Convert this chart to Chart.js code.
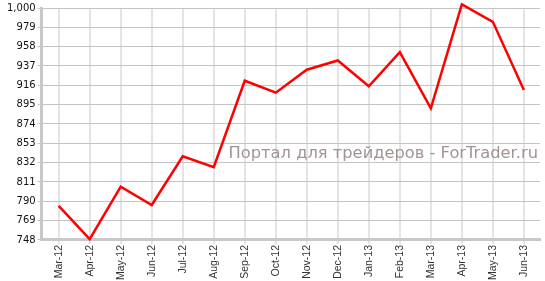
<!DOCTYPE html>
<html>
<head>
<meta charset="utf-8">
<script src="https://cdn.jsdelivr.net/npm/chart.js@4"></script>
<style>
  html, body { margin: 0; padding: 0; background: #fff; }
  #wrap { width: 545px; height: 281px; position: relative; }
</style>
</head>
<body>
<div id="wrap"><canvas id="chart"></canvas></div>
<script>
// Месяцы и значения
const months = ["Mar-12", "Apr-12", "May-12", "Jun-12", "Jul-12", "Aug-12", "Sep-12", "Oct-12",
  "Nov-12", "Dec-12", "Jan-13", "Feb-13", "Mar-13", "Apr-13", "May-13", "Jun-13"];
const values = [785, 749, 806, 786, 839, 827, 921, 908, 933, 943, 915, 952, 891, 1004, 985, 911];

const yMin = 748;
const yMax = 1000;
const yStep = 21;

const watermark = "Портал для трейдеров - ForTrader.ru";

// подпись-водяной знак поверх сетки
const watermarkPlugin = {
  id: "watermark",
  beforeDatasetsDraw(chart) {
    const ctx = chart.ctx;
    ctx.save();
    ctx.font = "16.3px 'DejaVu Sans'";
    ctx.fillStyle = "#a39494";
    ctx.textAlign = "right";
    ctx.textBaseline = "alphabetic";
    ctx.fillText(watermark, 538, 158);
    ctx.restore();
  },
};

// точки по индексу месяца
const points = values.map((v, i) => ({ x: i, y: v }));

new Chart(document.getElementById("chart").getContext("2d"), {
  type: "line",
  data: {
    datasets: [
      {
        data: points,
        borderColor: "#ff0000",
        borderWidth: 2.5,
        pointRadius: 0,
        tension: 0,
        fill: false,
        clip: false,
      },
    ],
  },
  options: {
    responsive: true,
    maintainAspectRatio: false,
    animation: false,
    layout: { padding: { top: 0, right: 5, left: 5, bottom: 0 } },
    plugins: { legend: { display: false }, tooltip: { enabled: false } },
    scales: {
      x: {
        type: "linear",
        min: -0.55,
        max: 15.52,
        grid: { color: "#e4e4e4", lineWidth: 2, drawTicks: true, tickLength: 4 },
        border: { color: "#c8c8c8", width: 3 },
        ticks: {
          stepSize: 1,
          includeBounds: false,
          minRotation: 90,
          maxRotation: 90,
          autoSkip: false,
          padding: 1,
          color: "#333",
          font: { family: "'Liberation Sans'", size: 10.5 },
          callback: (v) => months[v] ?? "",
        },
      },
      y: {
        min: yMin,
        max: yMax,
        grid: { color: "#c4c4c4", lineWidth: 1, tickLength: 4 },
        border: { color: "#c8c8c8", width: 3 },
        ticks: {
          stepSize: yStep,
          padding: 2,
          color: "#111",
          font: { family: "'DejaVu Sans'", size: 10 },
          callback: (v) => v.toLocaleString("en-US"),
        },
      },
    },
  },
  plugins: [watermarkPlugin],
});
</script>
</body>
</html>
